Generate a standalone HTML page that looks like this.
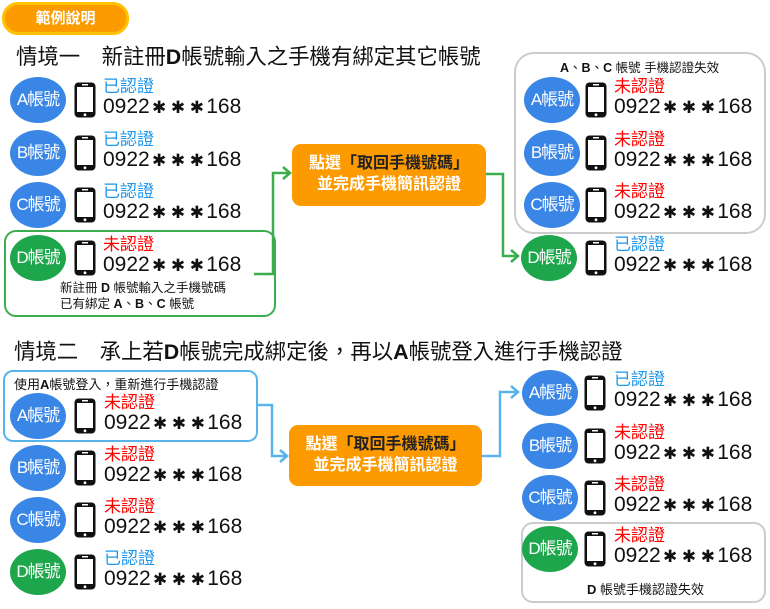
<!DOCTYPE html>
<html><head><meta charset="utf-8"><style>
body{margin:0;width:770px;height:609px;background:#fff;position:relative;overflow:hidden;font-family:"Liberation Sans","Noto Sans CJK TC",sans-serif;}
.a{position:absolute;}
.c{position:absolute;width:56px;height:46px;border-radius:50%;color:#fff;font-size:17px;line-height:46px;text-align:center;letter-spacing:-1px;}
.bl{background:#3a86e6}.gr{background:#1da64b}
.st{position:absolute;font-size:17px;line-height:18px;white-space:nowrap}
.ok{color:#1e96ec}.no{color:#f00}
.num{position:absolute;font-size:21px;line-height:22px;color:#111;white-space:nowrap}
.num b{font-size:17px;font-weight:normal;padding:0 2.3px}
.ob{position:absolute;background:#fd9a00;border-radius:9px;color:#fff;font-size:16px;line-height:21px;text-align:center;font-weight:bold}
.ob span{color:#222}
</style></head><body>
<svg width="0" height="0" style="position:absolute"><defs><g id="ph"><rect x="1.5" y="1.5" width="21" height="35" rx="4" fill="#111"/><rect x="4" y="6" width="16" height="25" fill="#fff"/><rect x="9" y="3" width="6" height="1.5" fill="#fff"/><circle cx="12" cy="33.8" r="1.4" fill="#fff"/></g></defs></svg>

<div class="a" style="left:2px;top:2px;width:121px;height:27px;background:#fc9b00;border:3px solid #ffc200;border-radius:16px;color:#fff;font-size:15px;line-height:27px;text-align:center;font-weight:bold">範例說明</div>
<div class="a" style="left:16px;top:44px;font-size:21.4px;line-height:26px;color:#111;white-space:nowrap">情境一　新註冊<b>D</b>帳號輸入之手機有綁定其它帳號</div>
<div class="a" style="left:14px;top:339px;font-size:21.4px;line-height:26px;color:#111;white-space:nowrap">情境二　承上若<b>D</b>帳號完成綁定後，再以<b>A</b>帳號登入進行手機認證</div>

<!-- boxes -->
<div class="a" style="left:4px;top:230px;width:268px;height:83px;border:2px solid #3cad4c;border-radius:12px"></div>
<div class="a" style="left:514px;top:52px;width:248px;height:178px;border:2px solid #ccc;border-radius:20px"></div>
<div class="a" style="left:3px;top:370px;width:251px;height:68px;border:2px solid #5ab4ec;border-radius:10px"></div>
<div class="a" style="left:521px;top:522px;width:241px;height:77px;border:2px solid #ccc;border-radius:12px"></div>

<div class="a" style="left:60px;top:280px;font-size:12.5px;line-height:16px;color:#111;white-space:nowrap">新註冊 <b>D</b> 帳號輸入之手機號碼<br>已有綁定 <b>A</b>、<b>B</b>、<b>C</b> 帳號</div>
<div class="a" style="left:560px;top:60px;font-size:12.5px;line-height:16px;color:#111;white-space:nowrap"><b>A</b>、<b>B</b>、<b>C</b> 帳號 手機認證失效</div>
<div class="a" style="left:14px;top:377px;font-size:13px;line-height:16px;color:#111;white-space:nowrap">使用<b>A</b>帳號登入，重新進行手機認證</div>
<div class="a" style="left:587px;top:582px;font-size:13px;line-height:16px;color:#111;white-space:nowrap"><b>D</b> 帳號手機認證失效</div>

<!-- connectors -->
<svg class="a" style="left:0;top:0" width="770" height="609">
<g fill="none" stroke="#3cad4c" stroke-width="2.5">
<polyline points="254,274 273,274 273,173 290,173"/><polyline points="283,167 290,173 283,179"/>
<polyline points="486,174 503,174 503,256 518,256"/><polyline points="511,250 518,256 511,262"/>
</g>
<g fill="none" stroke="#5ab4ec" stroke-width="2.5">
<polyline points="256,405 272,405 272,456 287,456"/><polyline points="280,450 287,456 280,462"/>
<polyline points="482,456 500,456 500,392 518,392"/><polyline points="511,386 518,392 511,398"/>
</g>
<g>
<use href="#ph" x="73" y="81"/><use href="#ph" x="73" y="134"/><use href="#ph" x="73" y="186"/><use href="#ph" x="73" y="239"/>
<use href="#ph" x="584" y="81"/><use href="#ph" x="584" y="134"/><use href="#ph" x="584" y="186"/><use href="#ph" x="584" y="239"/>
<use href="#ph" x="73" y="397"/><use href="#ph" x="73" y="449"/><use href="#ph" x="73" y="501"/><use href="#ph" x="73" y="553"/>
<use href="#ph" x="583" y="374"/><use href="#ph" x="583" y="427"/><use href="#ph" x="583" y="479"/><use href="#ph" x="583" y="530"/>
</g>
</svg>

<div class="ob" style="left:292px;top:144px;width:194px;height:62px;padding-top:9px;box-sizing:border-box">點選<span>「取回手機號碼」</span><br>並完成手機簡訊認證</div>
<div class="ob" style="left:289px;top:425px;width:193px;height:61px;padding-top:9px;box-sizing:border-box">點選<span>「取回手機號碼」</span><br>並完成手機簡訊認證</div>

<!-- scenario1 left -->
<div class="c bl" style="left:10px;top:77px">A帳號</div><div class="st ok" style="left:103px;top:78px">已認證</div><div class="num" style="left:103px;top:96px">0922<b>✱</b><b>✱</b><b>✱</b>168</div>
<div class="c bl" style="left:10px;top:130px">B帳號</div><div class="st ok" style="left:103px;top:131px">已認證</div><div class="num" style="left:103px;top:149px">0922<b>✱</b><b>✱</b><b>✱</b>168</div>
<div class="c bl" style="left:10px;top:182px">C帳號</div><div class="st ok" style="left:103px;top:183px">已認證</div><div class="num" style="left:103px;top:201px">0922<b>✱</b><b>✱</b><b>✱</b>168</div>
<div class="c gr" style="left:10px;top:235px">D帳號</div><div class="st no" style="left:103px;top:236px">未認證</div><div class="num" style="left:103px;top:254px">0922<b>✱</b><b>✱</b><b>✱</b>168</div>
<!-- scenario1 right -->
<div class="c bl" style="left:524px;top:77px">A帳號</div><div class="st no" style="left:614px;top:78px">未認證</div><div class="num" style="left:614px;top:96px">0922<b>✱</b><b>✱</b><b>✱</b>168</div>
<div class="c bl" style="left:524px;top:130px">B帳號</div><div class="st no" style="left:614px;top:131px">未認證</div><div class="num" style="left:614px;top:149px">0922<b>✱</b><b>✱</b><b>✱</b>168</div>
<div class="c bl" style="left:524px;top:182px">C帳號</div><div class="st no" style="left:614px;top:183px">未認證</div><div class="num" style="left:614px;top:201px">0922<b>✱</b><b>✱</b><b>✱</b>168</div>
<div class="c gr" style="left:521px;top:235px">D帳號</div><div class="st ok" style="left:614px;top:236px">已認證</div><div class="num" style="left:614px;top:254px">0922<b>✱</b><b>✱</b><b>✱</b>168</div>
<!-- scenario2 left -->
<div class="c bl" style="left:10px;top:393px">A帳號</div><div class="st no" style="left:104px;top:394px">未認證</div><div class="num" style="left:104px;top:412px">0922<b>✱</b><b>✱</b><b>✱</b>168</div>
<div class="c bl" style="left:10px;top:445px">B帳號</div><div class="st no" style="left:104px;top:446px">未認證</div><div class="num" style="left:104px;top:464px">0922<b>✱</b><b>✱</b><b>✱</b>168</div>
<div class="c bl" style="left:10px;top:497px">C帳號</div><div class="st no" style="left:104px;top:498px">未認證</div><div class="num" style="left:104px;top:516px">0922<b>✱</b><b>✱</b><b>✱</b>168</div>
<div class="c gr" style="left:10px;top:549px">D帳號</div><div class="st ok" style="left:104px;top:550px">已認證</div><div class="num" style="left:104px;top:568px">0922<b>✱</b><b>✱</b><b>✱</b>168</div>
<!-- scenario2 right -->
<div class="c bl" style="left:522px;top:370px">A帳號</div><div class="st ok" style="left:614px;top:371px">已認證</div><div class="num" style="left:614px;top:389px">0922<b>✱</b><b>✱</b><b>✱</b>168</div>
<div class="c bl" style="left:522px;top:423px">B帳號</div><div class="st no" style="left:614px;top:424px">未認證</div><div class="num" style="left:614px;top:442px">0922<b>✱</b><b>✱</b><b>✱</b>168</div>
<div class="c bl" style="left:522px;top:475px">C帳號</div><div class="st no" style="left:614px;top:476px">未認證</div><div class="num" style="left:614px;top:494px">0922<b>✱</b><b>✱</b><b>✱</b>168</div>
<div class="c gr" style="left:522px;top:526px">D帳號</div><div class="st no" style="left:614px;top:527px">未認證</div><div class="num" style="left:614px;top:545px">0922<b>✱</b><b>✱</b><b>✱</b>168</div>
</body></html>
